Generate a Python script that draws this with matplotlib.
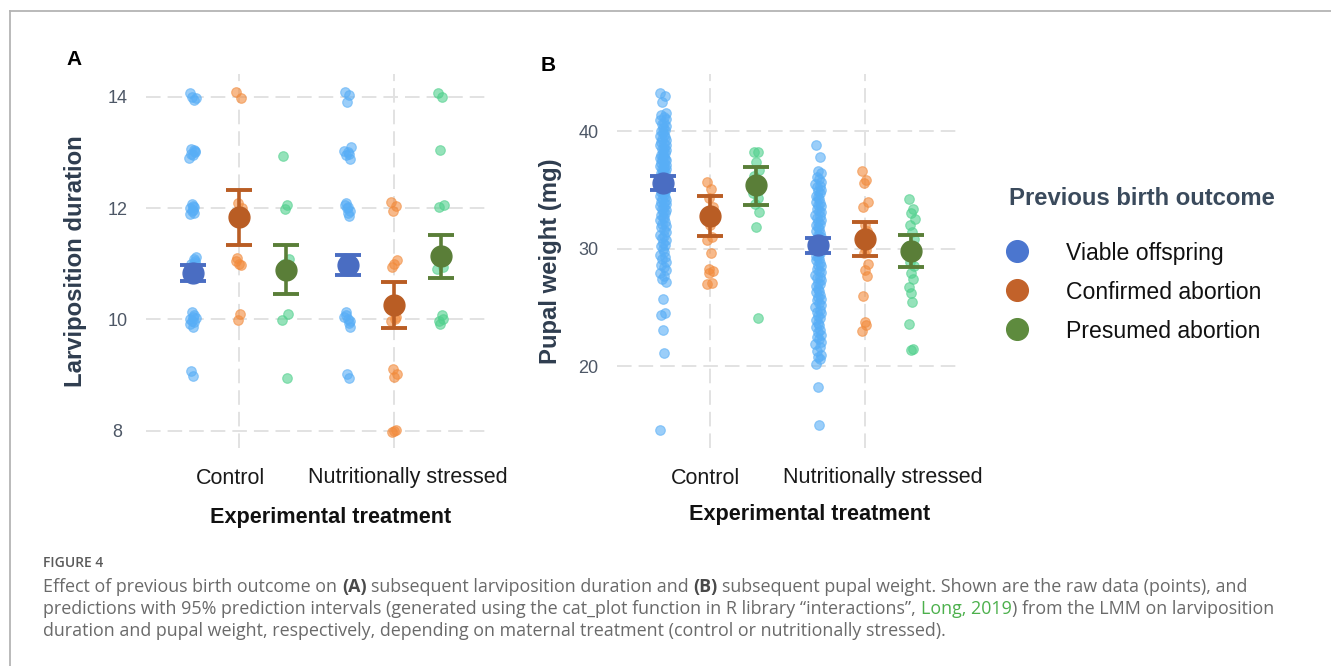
import numpy as np
import matplotlib
matplotlib.use("Agg")
import matplotlib.pyplot as plt
from matplotlib.lines import Line2D

plt.rcParams["font.family"] = ["Liberation Sans", "DejaVu Sans"]

W, H = 1331, 666

TREATMENTS = ["Control", "Nutritionally stressed"]
OUTCOMES = ["Viable offspring", "Confirmed abortion", "Presumed abortion"]

POINT_COLORS = ["#58AEF6", "#F28B3C", "#4FD08C"]
MEAN_COLORS = ["#4A6DC2", "#B95D24", "#5A7E38"]
LEGEND_COLORS = ["#4B76CF", "#C2622A", "#5E8B3E"]

# ---- panel A: larviposition duration (raw points per treatment x outcome)
lar_ctrl_viable = [14.06, 13.95, 14.0, 13.98, 13.07, 12.95, 13.0, 12.9, 13.04, 12.98,
                   13.02, 12.07, 11.92, 12.0, 11.97, 12.04, 11.89, 12.02, 11.95, 11.13,
                   11.0, 10.98, 11.05, 10.92, 11.08, 10.95, 11.02, 10.13, 9.95, 10.0,
                   9.87, 10.05, 9.92, 10.08, 9.98, 10.02, 9.08, 8.98]
lar_ctrl_conf = [14.09, 13.97, 12.1, 12.0, 11.1, 11.0, 10.98, 11.05, 10.1, 9.99]
lar_ctrl_pres = [12.93, 12.06, 11.98, 11.08, 11.0, 10.95, 10.09, 9.99, 8.94]
lar_ns_viable = [14.09, 14.03, 13.91, 13.09, 12.95, 13.0, 12.88, 13.03, 12.97, 12.1,
                 11.95, 12.0, 11.86, 12.05, 11.92, 12.02, 11.1, 11.0, 10.95, 11.05,
                 10.13, 10.0, 9.87, 10.05, 9.93, 10.08, 9.97, 9.02, 8.94]
lar_ns_conf = [12.11, 12.04, 11.95, 11.06, 10.95, 11.0, 10.05, 9.97, 10.0, 9.11,
               9.02, 8.96, 8.02, 7.97, 8.0]
lar_ns_pres = [14.07, 14.0, 13.05, 12.06, 12.02, 11.05, 10.95, 10.9, 10.08, 9.98,
               10.0, 9.92]

lar_mean = [[10.84, 11.84, 10.88], [10.98, 10.26, 11.14]]
lar_lo = [[10.69, 11.33, 10.45], [10.80, 9.85, 10.75]]
lar_hi = [[10.98, 12.32, 11.34], [11.16, 10.67, 11.52]]

# ---- panel B: pupal weight (mg)
pw_ctrl_viable = [43.2, 43.0, 42.5, 41.5, 41.4, 41.2, 41.0, 40.9, 40.7, 40.6, 40.4, 40.3,
                  40.1, 40.0, 39.9, 39.7, 39.6, 39.5, 39.3, 39.2, 39.1, 38.9, 38.8, 38.8,
                  38.6, 38.5, 38.4, 38.2, 38.1, 38.0, 37.9, 37.8, 37.7, 37.6, 37.5, 37.5,
                  37.3, 37.2, 37.1, 37.0, 36.9, 36.8, 36.8, 36.6, 36.5, 36.4, 36.3, 36.2,
                  36.1, 36.0, 35.9, 35.8, 35.8, 35.6, 35.5, 35.4, 35.3, 35.2, 35.1, 35.0,
                  34.9, 34.8, 34.7, 34.6, 34.5, 34.4, 34.2, 34.1, 34.0, 33.9, 33.8, 33.6,
                  33.5, 33.4, 33.3, 33.1, 33.0, 32.9, 32.7, 32.6, 32.4, 32.3, 32.1, 31.9,
                  31.8, 31.6, 31.4, 31.2, 31.1, 30.9, 30.7, 30.5, 30.3, 30.2, 30.0, 29.7,
                  29.5, 29.3, 29.1, 28.9, 28.6, 28.4, 28.2, 27.9, 27.7, 27.4, 27.2, 25.7,
                  24.5, 24.4, 23.1, 21.1, 14.6]
pw_ctrl_conf = [35.7, 35.1, 34.3, 33.5, 32.5, 32.0, 31.0, 30.7, 29.6, 28.3, 28.1, 27.9,
                27.1, 27.0]
pw_ctrl_pres = [38.2, 38.2, 37.4, 36.7, 36.2, 35.8, 35.0, 34.7, 34.3, 33.8, 33.1, 31.8,
                24.1]
pw_ns_viable = [38.8, 37.8, 36.6, 36.4, 36.1, 35.9, 35.7, 35.5, 35.3, 35.2, 35.0, 34.9,
                34.7, 34.5, 34.4, 34.2, 34.0, 33.9, 33.7, 33.6, 33.4, 33.2, 33.1, 32.9,
                32.8, 32.6, 32.4, 32.3, 32.1, 32.0, 31.8, 31.7, 31.5, 31.3, 31.2, 31.0,
                30.9, 30.7, 30.6, 30.4, 30.2, 30.1, 29.9, 29.8, 29.6, 29.4, 29.3, 29.1,
                29.0, 28.8, 28.6, 28.5, 28.3, 28.1, 28.0, 27.8, 27.6, 27.5, 27.3, 27.1,
                27.0, 26.8, 26.6, 26.4, 26.3, 26.1, 25.9, 25.7, 25.6, 25.4, 25.2, 25.0,
                24.8, 24.6, 24.5, 24.3, 24.1, 23.9, 23.7, 23.5, 23.3, 23.1, 22.9, 22.7,
                22.5, 22.3, 22.1, 21.9, 21.6, 21.3, 21.0, 20.8, 20.6, 20.2, 18.25, 15.0]
pw_ns_conf = [36.6, 35.8, 35.6, 34.0, 33.5, 32.0, 31.5, 30.5, 29.9, 29.6, 28.7, 28.2,
              27.7, 26.0, 23.8, 23.5, 23.0]
pw_ns_pres = [34.25, 33.4, 33.0, 32.55, 32.0, 31.4, 30.8, 30.2, 29.5, 28.9, 28.5, 27.9,
              27.4, 26.75, 26.2, 25.5, 23.6, 21.5, 21.4]

pw_mean = [[35.6, 32.8, 35.4], [30.3, 30.8, 29.8]]
pw_lo = [[35.0, 31.05, 33.7], [29.6, 29.35, 28.45]]
pw_hi = [[36.15, 34.5, 36.95], [30.9, 32.27, 31.2]]

DODGE = [-0.3, 0.0, 0.3]
# small fixed horizontal jitter, in category units
JITTER = [-0.018, 0.01, -0.005, 0.02, -0.012, 0.003, 0.015, -0.02,
          0.008, -0.008, 0.018, -0.002, 0.012, -0.015, 0.0, 0.005]


def px(x, y):
    return x / W, 1 - y / H


def draw_panel(ax, raw, means, lo, hi, ylim, yticks, ylabel, ylabel_x,
               tick_shift, title_x, title_dy):
    for ti in range(2):
        for gi in range(3):
            vals = raw[ti][gi]
            jit = np.array([JITTER[k % len(JITTER)] for k in range(len(vals))])
            xs = ti + 1 + DODGE[gi] + jit
            ax.scatter(xs, vals, s=48, color=POINT_COLORS[gi], alpha=0.6,
                       edgecolors=POINT_COLORS[gi], linewidths=0.8, zorder=2)
    for ti in range(2):
        for gi in range(3):
            m = means[ti][gi]
            ax.errorbar(ti + 1 + DODGE[gi], m, yerr=[[m - lo[ti][gi]], [hi[ti][gi] - m]],
                        fmt="o", color=MEAN_COLORS[gi], ms=15, elinewidth=2.6,
                        capsize=9.7, capthick=2.8, zorder=3)

    ax.set_xlim(0.4, 2.6)
    ax.set_ylim(*ylim)
    ax.set_xticks([1, 2])
    ax.set_xticklabels([])
    ax.set_yticks(yticks)
    ax.grid(True, color="#e2e2e2", lw=1.4, linestyle=(0, (7.5, 3.6)), zorder=0)
    ax.set_axisbelow(True)
    for s in ax.spines.values():
        s.set_visible(False)
    ax.tick_params(axis="x", length=0)
    ax.tick_params(axis="y", length=0, pad=20.5, labelsize=13, labelcolor="#4d5766")
    for lbl in ax.get_yticklabels():
        lbl.set_ha("center")

    for ti, name in enumerate(TREATMENTS):
        ax.annotate(name, xy=(ti + 1 + tick_shift[ti], 0), xycoords=("data", "axes fraction"),
                    xytext=(0, -21.6), textcoords="offset points", ha="center",
                    va="center", fontsize=15.5, color="#1a1a1a")
    ax.annotate("Experimental treatment", xy=(title_x, 0), xycoords="axes fraction",
                xytext=(0, title_dy), textcoords="offset points", ha="center",
                va="center", fontsize=15.6, fontweight="bold", color="#111111")
    ax.set_ylabel(ylabel, fontsize=17.2, fontweight="bold", color="#2f3d4f")
    ax.yaxis.set_label_coords(ylabel_x, 0.5)


fig = plt.figure(figsize=(W / 100, H / 100), dpi=100)

axA = fig.add_axes([146 / W, 1 - 448 / H, 341 / W, 374 / H])
axB = fig.add_axes([616.7 / W, 1 - 448 / H, 341.3 / W, 374 / H])

draw_panel(axA,
           [[lar_ctrl_viable, lar_ctrl_conf, lar_ctrl_pres],
            [lar_ns_viable, lar_ns_conf, lar_ns_pres]],
           lar_mean, lar_lo, lar_hi, (7.69, 14.41), [8, 10, 12, 14],
           "Larviposition duration", -0.173, (-0.052, 0.092), 0.5425, -49.7)
draw_panel(axB,
           [[pw_ctrl_viable, pw_ctrl_conf, pw_ctrl_pres],
            [pw_ns_viable, pw_ns_conf, pw_ns_pres]],
           pw_mean, pw_lo, pw_hi, (13.05, 44.85), [20, 30, 40],
           "Pupal weight (mg)", -0.160, (-0.026, 0.113), 0.5655, -48.2)

# panel letters
fig.text(*px(66.7, 65), "A", fontsize=15, fontweight="bold", color="black", va="baseline")
fig.text(*px(540.7, 70.7), "B", fontsize=15, fontweight="bold", color="black", va="baseline")

# legend
fig.text(*px(1009.3, 205), "Previous birth outcome", fontsize=17.2, fontweight="bold",
         color="#3a4a5c", va="baseline")
for name, col, yy in zip(OUTCOMES, LEGEND_COLORS, [251, 290, 329.3]):
    fig.add_artist(Line2D([1017.3 / W], [1 - yy / H], transform=fig.transFigure,
                          marker="o", ms=15.6, color=col, linestyle="none"))
    fig.text(*px(1066, yy), name, fontsize=16.6, color="#111111", va="center_baseline")

# frame lines
fig.add_artist(Line2D([9.5 / W, 1.0], [1 - 11 / H, 1 - 11 / H], transform=fig.transFigure,
                      color="#b4b4b4", lw=1.3))
fig.add_artist(Line2D([9.5 / W, 9.5 / W], [1 - 11 / H, 0.0], transform=fig.transFigure,
                      color="#b4b4b4", lw=1.3))

# caption
renderer = fig.canvas.get_renderer()
CAP = dict(fontsize=12.85, family=["Open Sans", "DejaVu Sans"], color="#6a6a6a")


def text_w(s, **kw):
    t = fig.text(0, 0, s, **kw)
    w = t.get_window_extent(renderer).width
    t.remove()
    return w


def draw_runs(x, y, runs):
    for s, extra in runs:
        kw = dict(CAP, **extra)
        sp = text_w("a a", **kw) - text_w("aa", **kw)
        lead = len(s) - len(s.lstrip(" "))
        trail = len(s) - len(s.rstrip(" "))
        core = s.strip(" ")
        x += lead * sp
        fig.text(x / W, 1 - y / H, core, va="baseline", **kw)
        x += text_w(core, **kw) + trail * sp


fig.text(*px(43.3, 566.7), "FIGURE 4", fontsize=10, family=["Open Sans", "DejaVu Sans"],
         fontweight="semibold", color="#5a5a5a", va="baseline")
BOLD = dict(fontweight="bold", color="#4a4a4a")
GREEN = dict(color="#4cb04c")
draw_runs(43.3, 591.7, [("Effect of previous birth outcome on ", {}), ("(A)", BOLD),
                        (" subsequent larviposition duration and ", {}), ("(B)", BOLD),
                        (" subsequent pupal weight. Shown are the raw data (points), and", {})])
draw_runs(43.3, 614.3, [("predictions with 95% prediction intervals (generated using the "
                         "cat_plot function in R library \u201cinteractions\u201d, ", {}),
                        ("Long, 2019", GREEN),
                        (") from the LMM on larviposition", {})])
draw_runs(43.3, 636.5, [("duration and pupal weight, respectively, depending on maternal "
                         "treatment (control or nutritionally stressed).", {})])

fig.savefig("out.png", dpi=100)
